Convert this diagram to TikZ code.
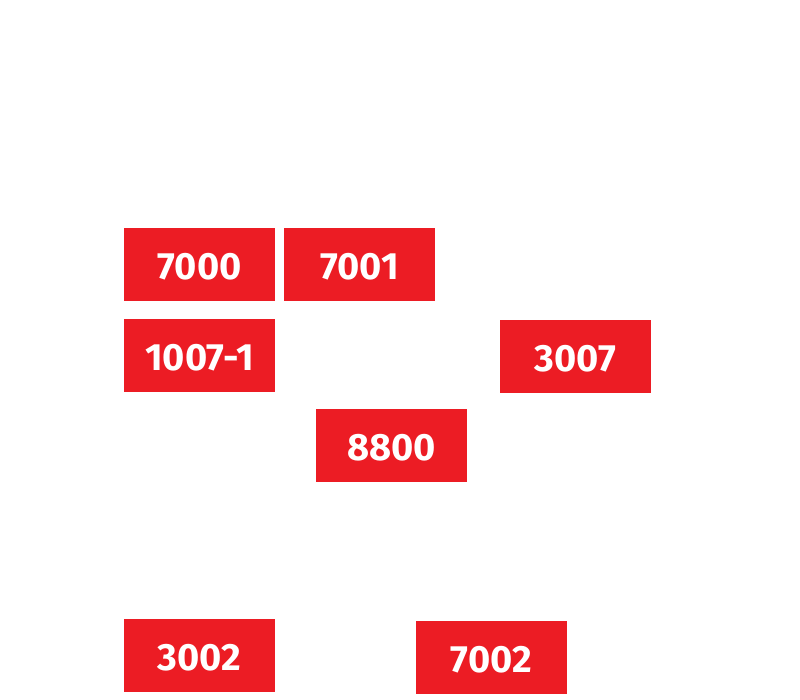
\documentclass[tikz,border=0pt]{standalone}
\usepackage{fontspec}
\setmainfont{Fira Sans}
\definecolor{boxred}{HTML}{EC1C24}
\tikzset{redbox/.style={fill=boxred,draw=none,inner sep=0pt,minimum width=151pt,minimum height=73pt,text height=30pt,text depth=0pt,text=white,font=\fontsize{38}{42}\selectfont\bfseries}}
\begin{document}
\begin{tikzpicture}[x=1pt,y=1pt]
\useasboundingbox (0,0) rectangle (800,700);
\node[redbox] (n7000) at (199.5,435) {7000};
\node[redbox] (n7001) at (359.5,435) {7001};
\node[redbox] (n1007) at (199.5,344.5) {1007-1};
\node[redbox] (n3007) at (575.5,343) {3007};
\node[redbox] (n8800) at (391.5,254) {8800};
\node[redbox] (n3002) at (199.5,44) {3002};
\node[redbox] (n7002) at (491.5,42) {7002};
\end{tikzpicture}
\end{document}
